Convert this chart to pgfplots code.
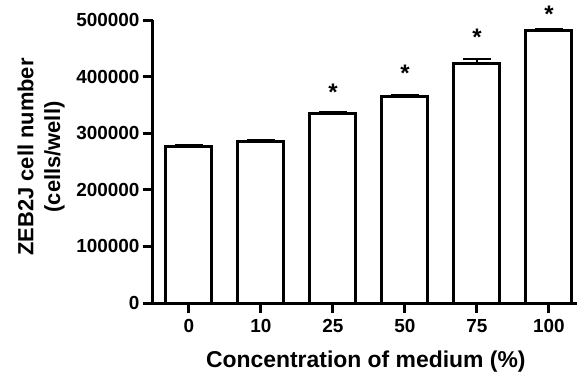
\documentclass[border=0pt]{standalone}
\usepackage{pgfplots}
\pgfplotsset{compat=1.18}
\usepackage{fontspec}
\setmainfont{Liberation Sans}
\begin{document}
\begin{tikzpicture}
\begin{axis}[
  scale only axis, width=424bp, height=283bp,
  xmin=-0.5, xmax=5.39, ymin=0, ymax=500000,
  axis lines=left, axis line style={-, line width=3bp},
  xtick={0,...,5}, xticklabels={0,10,25,50,75,100},
  ytick={0,100000,...,500000},
  scaled y ticks=false,
  yticklabel style={/pgf/number format/fixed, /pgf/number format/1000 sep={}},
  xticklabel style={yshift=-3bp},
  tick style={line width=3bp, black},
  major tick length=10bp,
  tick align=outside,
  ticklabel style={font=\fontsize{19}{22}\selectfont\bfseries},
  /pgf/number format/assume math mode=true,
  xlabel={Concentration of medium (\%)},
  ylabel={ZEB2J cell number\\(cells/well)},
  every axis x label/.style={at={(axis description cs:0.502,0)}, anchor=base, yshift=-64bp,
    font=\fontsize{23}{26}\selectfont\bfseries},
  every axis y label/.style={at={(axis description cs:-0.264,0.516)}, anchor=center, rotate=90,
    align=center, font=\fontsize{22}{27}\selectfont\bfseries},
  clip=false,
]
\addplot[ybar, bar width=46bp, fill=white, draw=black, line width=3bp,
  error bars/.cd, y dir=plus, y explicit,
  error bar style={line width=2.5bp, black},
  error mark options={rotate=90, line width=2.5bp, mark size=14bp, black}]
  coordinates {
  (0,277000) +- (0,2000)
  (1,286000) +- (0,2000)
  (2,335000) +- (0,2500)
  (3,364000) +- (0,2500)
  (4,423000) +- (0,8000)
  (5,482000) +- (0,2000)
  };
\addplot[draw=none, nodes near coords={*}, nodes near coords align={center},
  every node near coord/.style={font=\fontsize{24}{24}\selectfont\bfseries, anchor=center}]
  coordinates {
  (2,372000)
  (3,405000)
  (4,469000)
  (5,511000)
  };
\end{axis}
\pgfresetboundingbox
\path ([shift={(-153bp,-70bp)}]current axis.south west) rectangle ([shift={(0bp,20bp)}]current axis.north east);
\end{tikzpicture}
\end{document}
